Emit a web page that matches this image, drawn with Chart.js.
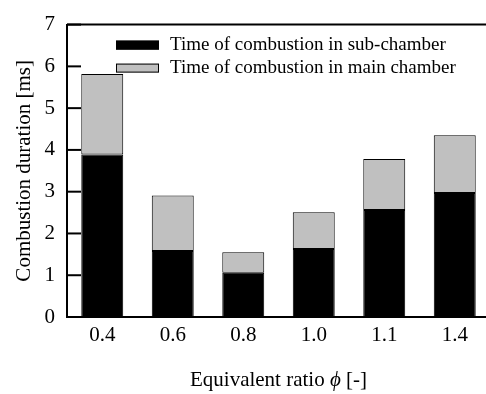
<!DOCTYPE html>
<html>
<head>
<meta charset="utf-8">
<script src="https://cdn.jsdelivr.net/npm/chart.js@4/dist/chart.umd.min.js"></script>
<style>
  html, body { margin: 0; padding: 0; background: #fff; overflow: hidden; }
  #wrap { width: 490px; height: 394px; }
</style>
</head>
<body>
<div id="wrap"><canvas id="combChart"></canvas></div>
<script>
// equivalence ratios on the x axis
const ratios = ['0.4', '0.6', '0.8', '1.0', '1.1', '1.4'];
// combustion time in the sub-chamber [ms] (black, bottom)
const subChamber = [3.89, 1.58, 1.06, 1.63, 2.56, 2.97];
// combustion time in the main chamber [ms] (gray, stacked on top)
const mainChamber = [1.93, 1.33, 0.49, 0.88, 1.22, 1.38];
const yTicks = [0, 1, 2, 3, 4, 5, 6, 7];

const serif = 'Liberation Serif';

// frame, inward ticks, legend inside the plot and the x title with italic phi
const framePlugin = {
  id: 'frame',
  afterDraw(chart) {
    const ctx = chart.ctx;
    const area = chart.chartArea;
    const y = chart.scales.y;
    ctx.save();
    ctx.strokeStyle = '#000';
    ctx.lineWidth = 2;
    ctx.beginPath();
    ctx.moveTo(area.left, area.top);
    ctx.lineTo(chart.width, area.top);
    ctx.stroke();
    // inward ticks on the y axis
    yTicks.forEach(v => {
      const py = y.getPixelForValue(v);
      ctx.beginPath();
      ctx.moveTo(area.left, py);
      ctx.lineTo(area.left + 14, py);
      ctx.stroke();
    });
    // legend
    ctx.font = '19px ' + serif;
    ctx.textBaseline = 'middle';
    chart.data.datasets.forEach((ds, i) => {
      const bx = area.left + 49;
      const by = area.top + 16 + i * 23;
      ctx.fillStyle = ds.backgroundColor;
      ctx.fillRect(bx, by, 43, 9);
      ctx.lineWidth = 1;
      ctx.strokeStyle = '#000';
      ctx.strokeRect(bx + 0.5, by + 0.5, 42, 8);
      ctx.fillStyle = '#000';
      ctx.fillText(ds.label, bx + 54, by + 4.5);
    });
    // x axis title
    const parts = [
      { t: 'Equivalent ratio ', f: '21px ' + serif },
      { t: '\u03d5', f: 'italic 21px ' + serif },
      { t: ' [-]', f: '21px ' + serif }
    ];
    let total = 0;
    parts.forEach(p => { ctx.font = p.f; p.w = ctx.measureText(p.t).width; total += p.w; });
    let tx = (area.left + 486) / 2 - total / 2 + 2;
    ctx.textBaseline = 'middle';
    ctx.textAlign = 'left';
    parts.forEach(p => { ctx.font = p.f; ctx.fillText(p.t, tx, 380); tx += p.w; });
    ctx.restore();
  }
};

new Chart(document.getElementById('combChart'), {
  type: 'bar',
  data: {
    labels: ratios,
    datasets: [
      {
        label: 'Time of combustion in sub-chamber',
        data: subChamber,
        backgroundColor: '#000000',
        borderColor: '#000000',
        borderWidth: 1,
        borderSkipped: false
      },
      {
        label: 'Time of combustion in main chamber',
        data: mainChamber,
        backgroundColor: '#c0c0c0',
        borderColor: '#000000',
        borderWidth: 1,
        borderSkipped: false
      }
    ]
  },
  options: {
    responsive: true,
    maintainAspectRatio: false,
    animation: false,
    layout: { padding: { top: 12, left: 0, right: 0, bottom: 0 } },
    datasets: { bar: { categoryPercentage: 1, barPercentage: 0.595 } },
    plugins: {
      legend: { display: false },
      tooltip: { enabled: false }
    },
    scales: {
      x: {
        stacked: true,
        grid: { display: false, drawTicks: false },
        border: { display: true, color: '#000', width: 2 },
        ticks: { color: '#000', font: { family: serif, size: 21 }, padding: 6 },
        afterFit(scale) { scale.height = 77; }
      },
      y: {
        stacked: true,
        min: 0,
        max: 7,
        grid: { display: false, drawTicks: false },
        border: { display: true, color: '#000', width: 2 },
        ticks: { stepSize: 1, color: '#000', font: { family: serif, size: 21 }, padding: 12 },
        title: {
          display: true,
          text: 'Combustion duration [ms]',
          color: '#000',
          font: { family: serif, size: 21 },
          padding: { top: 12, bottom: 0 }
        },
        afterFit(scale) { scale.width = 67; }
      }
    }
  },
  plugins: [framePlugin]
});
</script>
</body>
</html>
